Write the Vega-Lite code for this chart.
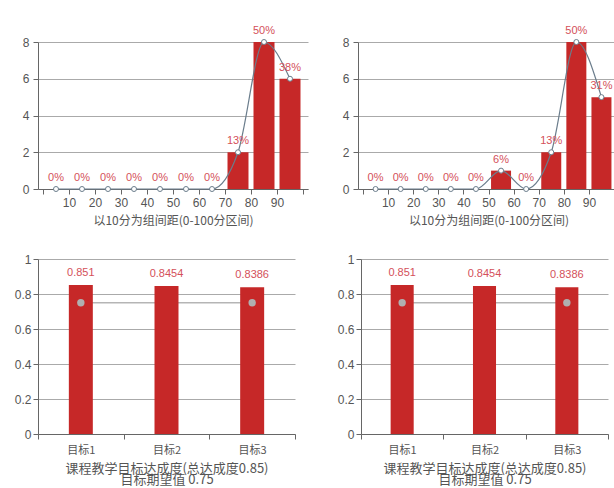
{
  "$schema": "https://vega.github.io/schema/vega-lite/v6.json",
  "padding": {"left": 0, "top": 25, "right": 0, "bottom": 0},
  "autosize": {"type": "pad"},
  "background": "white",
  "config": {
    "view": {"stroke": null},
    "axis": {
      "labelFont": "Liberation Sans", "labelFontSize": 12, "labelColor": "#555",
      "domainColor": "#666", "tickColor": "#666", "gridColor": "#aaa",
      "titleFont": "Noto Sans CJK SC", "titleColor": "#555", "titleFontWeight": "normal",
      "tickSize": 5
    }
  },
  "datasets": {
    "hist1": [
      {"mid": 5, "count": 0, "pct": "0%"}, {"mid": 15, "count": 0, "pct": "0%"},
      {"mid": 25, "count": 0, "pct": "0%"}, {"mid": 35, "count": 0, "pct": "0%"},
      {"mid": 45, "count": 0, "pct": "0%"}, {"mid": 55, "count": 0, "pct": "0%"},
      {"mid": 65, "count": 0, "pct": "0%"}, {"mid": 75, "count": 2, "pct": "13%"},
      {"mid": 85, "count": 8, "pct": "50%"}, {"mid": 95, "count": 6, "pct": "38%"}
    ],
    "hist2": [
      {"mid": 5, "count": 0, "pct": "0%"}, {"mid": 15, "count": 0, "pct": "0%"},
      {"mid": 25, "count": 0, "pct": "0%"}, {"mid": 35, "count": 0, "pct": "0%"},
      {"mid": 45, "count": 0, "pct": "0%"}, {"mid": 55, "count": 1, "pct": "6%"},
      {"mid": 65, "count": 0, "pct": "0%"}, {"mid": 75, "count": 2, "pct": "13%"},
      {"mid": 85, "count": 8, "pct": "50%"}, {"mid": 95, "count": 5, "pct": "31%"}
    ],
    "goal": [
      {"target": "目标1", "value": 0.851},
      {"target": "目标2", "value": 0.8454},
      {"target": "目标3", "value": 0.8386}
    ],
    "expect": [
      {"target": "目标1", "value": 0.75},
      {"target": "目标3", "value": 0.75}
    ]
  },
  "spacing": 27,
  "vconcat": [
    {
      "spacing": 10,
      "hconcat": [
        {
          "width": 270, "height": 147,
          "data": {"name": "hist1"},
          "encoding": {
            "x": {"field": "mid", "type": "quantitative", "scale": {"domain": [0, 100], "nice": false},
              "axis": {"values": [0,10,20,30,40,50,60,70,80,90,100], "labelExpr": "datum.value==0||datum.value==100?'':datum.label",
                "grid": false, "title": "以10分为组间距(0-100分区间)", "titleFontSize": 12, "titlePadding": 7, "labelPadding": 3}},
            "y": {"field": "count", "type": "quantitative", "scale": {"domain": [0, 8]},
              "axis": {"values": [0,2,4,6,8], "grid": true, "title": null, "minExtent": 29, "maxExtent": 29, "labelPadding": 4}}
          },
          "layer": [
            {"mark": {"type": "bar", "color": "#c62828", "width": 21}},
            {"mark": {"type": "line", "interpolate": "monotone", "color": "#6b7d8c", "strokeWidth": 1.2}},
            {"mark": {"type": "point", "shape": "circle", "filled": true, "fill": "white", "stroke": "#6b7d8c", "strokeWidth": 1, "size": 25, "opacity": 1}},
            {"mark": {"type": "text", "dy": -11, "color": "#d4505a", "font": "Liberation Sans", "fontSize": 11}, "encoding": {"text": {"field": "pct"}}}
          ]
        },
        {
          "width": 261, "height": 147,
          "data": {"name": "hist2"},
          "encoding": {
            "x": {"field": "mid", "type": "quantitative", "scale": {"domain": [0, 100], "nice": false},
              "axis": {"values": [0,10,20,30,40,50,60,70,80,90,100], "labelExpr": "datum.value==0||datum.value==100?'':datum.label",
                "grid": false, "title": "以10分为组间距(0-100分区间)", "titleFontSize": 12, "titlePadding": 7, "labelPadding": 3}},
            "y": {"field": "count", "type": "quantitative", "scale": {"domain": [0, 8]},
              "axis": {"values": [0,2,4,6,8], "grid": true, "title": null, "minExtent": 40, "maxExtent": 40, "labelPadding": 4}}
          },
          "layer": [
            {"mark": {"type": "bar", "color": "#c62828", "width": 20}},
            {"mark": {"type": "line", "interpolate": "monotone", "color": "#6b7d8c", "strokeWidth": 1.2}},
            {"mark": {"type": "point", "shape": "circle", "filled": true, "fill": "white", "stroke": "#6b7d8c", "strokeWidth": 1, "size": 25, "opacity": 1}},
            {"mark": {"type": "text", "dy": -11, "color": "#d4505a", "font": "Liberation Sans", "fontSize": 11}, "encoding": {"text": {"field": "pct"}}}
          ]
        }
      ]
    },
    {
      "spacing": 10,
      "hconcat": [
        {
          "width": 257, "height": 175,
          "encoding": {
            "x": {"field": "target", "type": "nominal", "scale": {"domain": ["目标1", "目标2", "目标3"], "paddingInner": 0, "paddingOuter": 0},
              "axis": {"tickBand": "extent", "labelAngle": 0, "labelFont": "Noto Sans CJK SC", "labelFontSize": 11, "labelPadding": 5,
                "title": ["课程教学目标达成度(总达成度0.85)", "目标期望值 0.75"], "titleFontSize": 13, "titleLineHeight": 11, "titlePadding": 7}},
            "y": {"field": "value", "type": "quantitative", "scale": {"domain": [0, 1]},
              "axis": {"values": [0,0.2,0.4,0.6,0.8,1], "format": "~g", "grid": true, "title": null, "minExtent": 38, "maxExtent": 38, "labelPadding": 2}}
          },
          "layer": [
            {"data": {"name": "expect"}, "mark": {"type": "line", "color": "#b5b5b5", "strokeWidth": 1.5}},
            {"data": {"name": "goal"}, "mark": {"type": "bar", "color": "#c62828", "width": {"band": 0.28}}},
            {"data": {"name": "goal"}, "mark": {"type": "text", "dy": -12, "color": "#d4505a", "font": "Liberation Sans", "fontSize": 11}, "encoding": {"text": {"field": "value"}}},
            {"data": {"name": "expect"}, "mark": {"type": "point", "shape": "circle", "filled": true, "color": "#b0b0b0", "size": 55, "opacity": 1}}
          ]
        },
        {
          "width": 247, "height": 175,
          "encoding": {
            "x": {"field": "target", "type": "nominal", "scale": {"domain": ["目标1", "目标2", "目标3"], "paddingInner": 0, "paddingOuter": 0},
              "axis": {"tickBand": "extent", "labelAngle": 0, "labelFont": "Noto Sans CJK SC", "labelFontSize": 11, "labelPadding": 5,
                "title": ["课程教学目标达成度(总达成度0.85)", "目标期望值 0.75"], "titleFontSize": 13, "titleLineHeight": 11, "titlePadding": 7}},
            "y": {"field": "value", "type": "quantitative", "scale": {"domain": [0, 1]},
              "axis": {"values": [0,0.2,0.4,0.6,0.8,1], "format": "~g", "grid": true, "title": null, "minExtent": 55, "maxExtent": 55, "labelPadding": 2}}
          },
          "layer": [
            {"data": {"name": "expect"}, "mark": {"type": "line", "color": "#b5b5b5", "strokeWidth": 1.5}},
            {"data": {"name": "goal"}, "mark": {"type": "bar", "color": "#c62828", "width": {"band": 0.28}}},
            {"data": {"name": "goal"}, "mark": {"type": "text", "dy": -12, "color": "#d4505a", "font": "Liberation Sans", "fontSize": 11}, "encoding": {"text": {"field": "value"}}},
            {"data": {"name": "expect"}, "mark": {"type": "point", "shape": "circle", "filled": true, "color": "#b0b0b0", "size": 55, "opacity": 1}}
          ]
        }
      ]
    }
  ]
}
